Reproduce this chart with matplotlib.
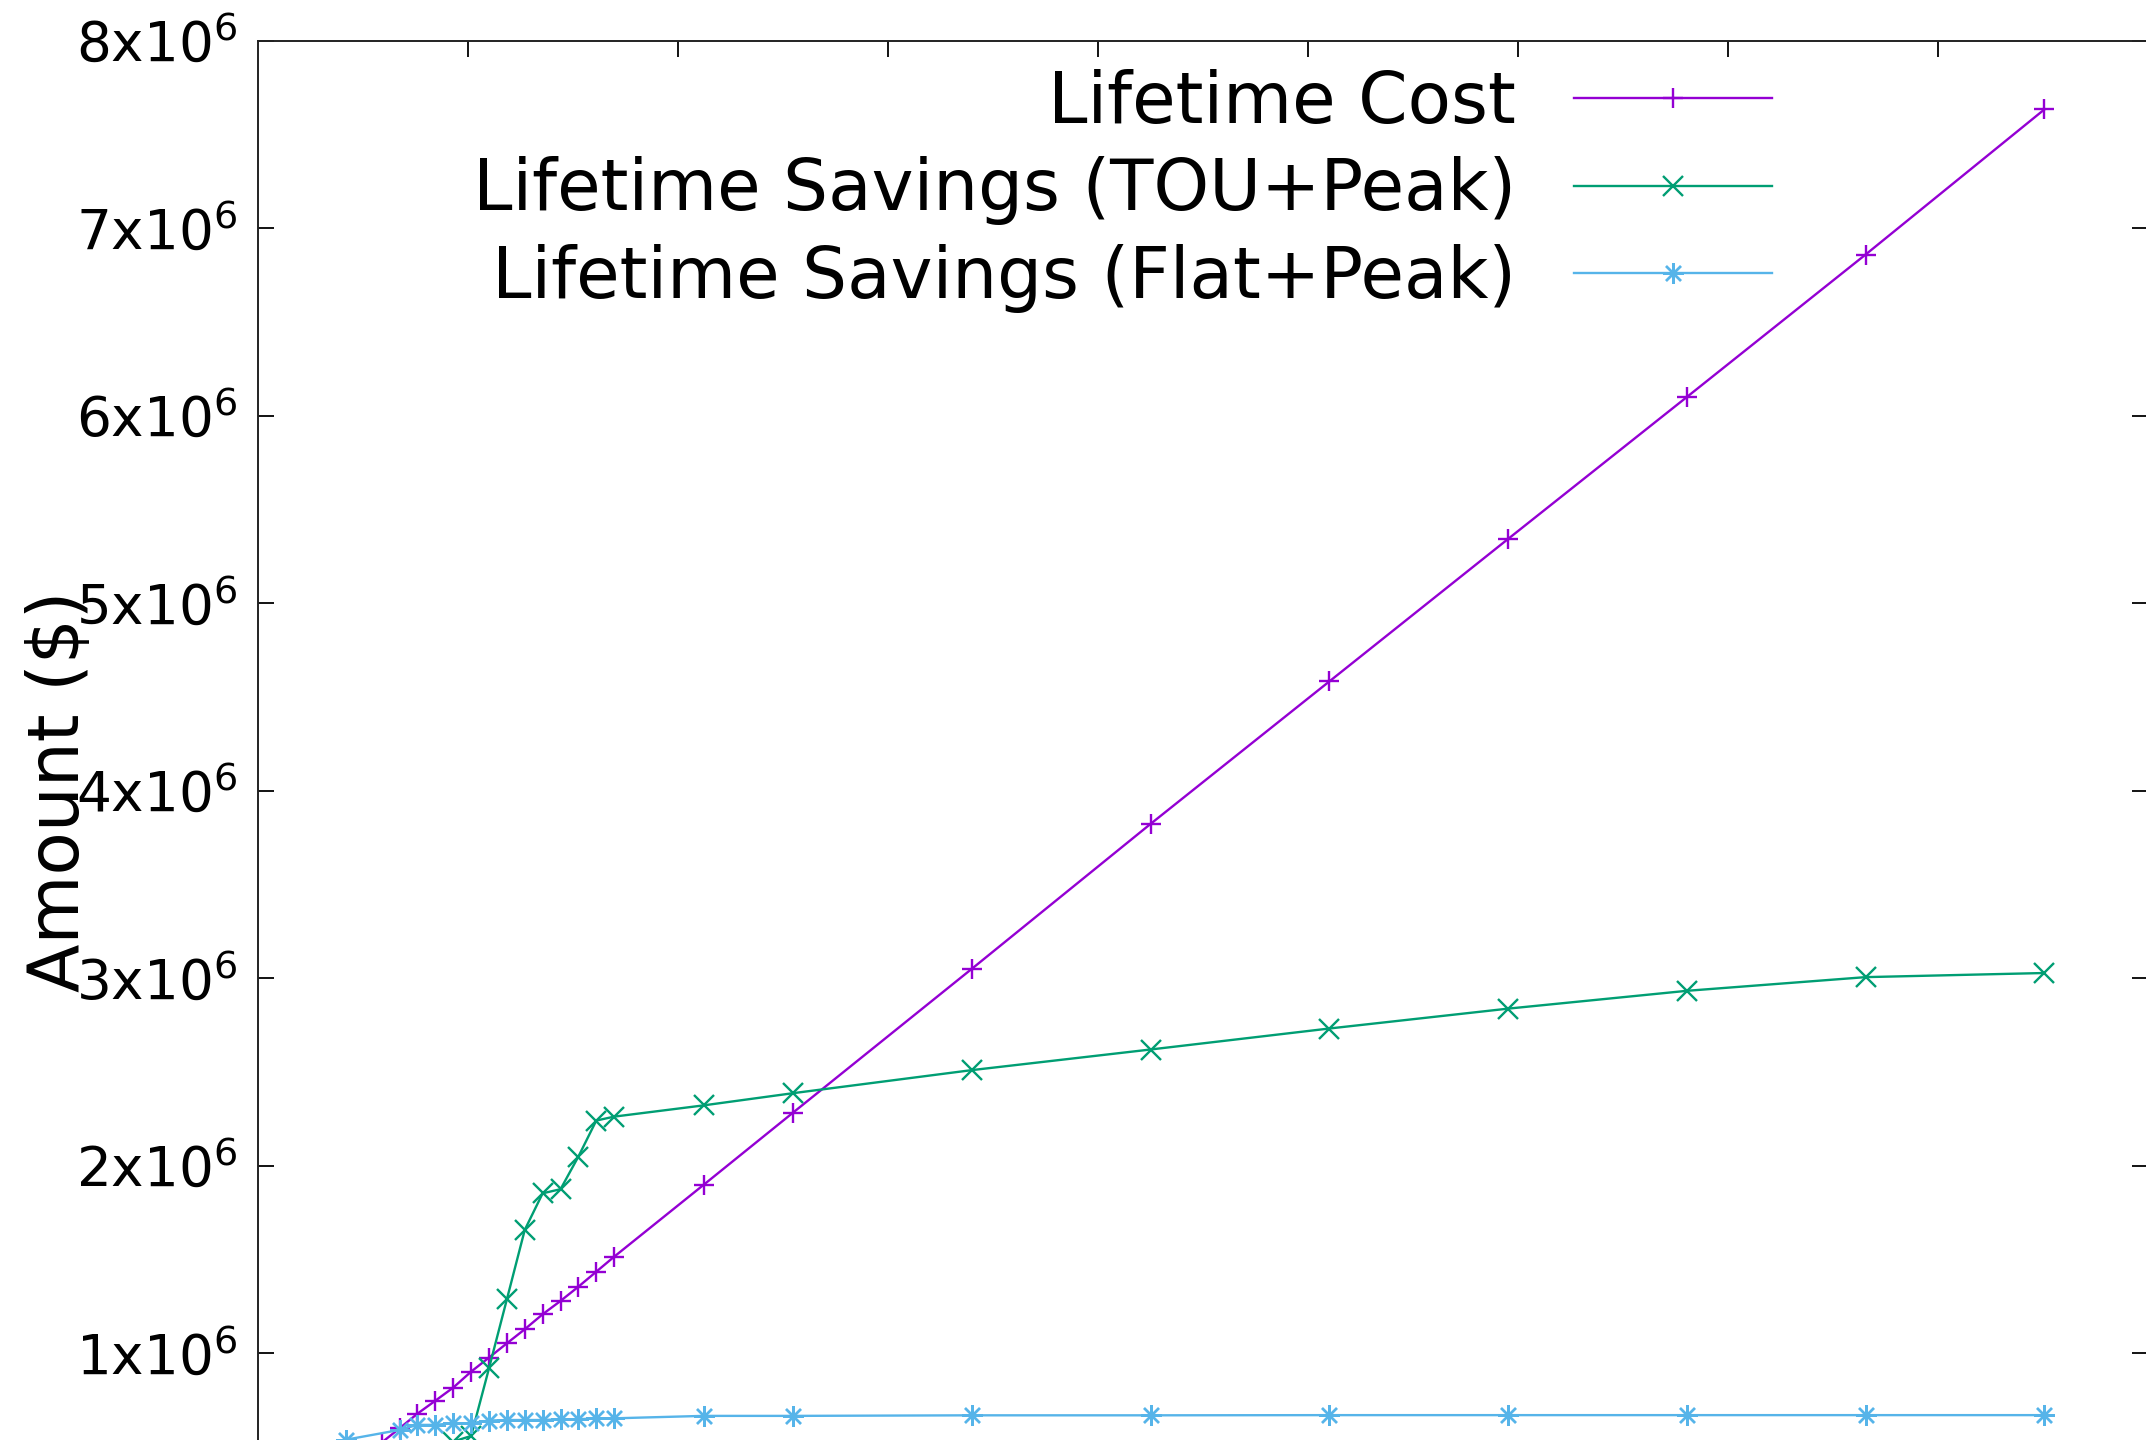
import numpy as np
import matplotlib
matplotlib.use('Agg')
import matplotlib.pyplot as plt
from matplotlib.ticker import FuncFormatter

plt.rcParams['font.family'] = ['DejaVu Sans']
plt.rcParams['mathtext.default'] = 'regular'

# Lifetime cost of the system for each size step
size_cost = [5, 6, 7, 8, 9, 10, 11, 12, 13, 14, 15, 16, 17, 18, 19, 20,
             25, 30, 40, 50, 60, 70, 80, 90, 100]
lifetime_cost = [372000, 449000, 525000, 601000, 679000, 748000, 818000, 903000,
                 978000, 1054000, 1129000, 1209000, 1280000, 1356000, 1436000, 1516000,
                 1899000, 2284000, 3051000, 3824000, 4584000, 5344000, 6101000, 6861000,
                 7635000]

# Lifetime savings, time-of-use tariff plus peak shaving
size_tou = [10, 11, 12, 13, 14, 15, 16, 17, 18, 19, 20,
            25, 30, 40, 50, 60, 70, 80, 90, 100]
savings_tou = [450000, 530000, 560000, 921000, 1289000, 1659000, 1854000, 1876000,
               2050000, 2242000, 2263000, 2323000, 2388000, 2511000, 2621000, 2733000,
               2839000, 2934000, 3007000, 3029000]

# Lifetime savings, flat tariff plus peak shaving
size_flat = [5, 8, 9, 10, 11, 12, 13, 14, 15, 16, 17, 18, 19, 20,
             25, 30, 40, 50, 60, 70, 80, 90, 100]
savings_flat = [540000, 592000, 619000, 619000, 628000, 628000, 642000, 645000,
                645000, 645000, 649000, 649000, 654000, 654000, 667000, 667000,
                670000, 670000, 671000, 671000, 671000, 671000, 671000]

purple = '#9400D3'
green = '#009E73'
blue = '#56B4E9'

fig = plt.figure(figsize=(21.46, 14.40), dpi=100)
# plot area runs past the bottom and right edges of the canvas
ax = fig.add_axes([0.1204, -0.0701, 0.8806, 1.04167])

ax.plot(size_cost, lifetime_cost, color=purple, lw=1.7, marker='+', ms=15, mew=1.7,
        label='Lifetime Cost')
ax.plot(size_tou, savings_tou, color=green, lw=1.7, marker='x', ms=14, mew=1.7,
        label='Lifetime Savings (TOU+Peak)')
ax.plot(size_flat, savings_flat, color=blue, lw=1.7, marker=(8, 2, 0), ms=15, mew=1.7,
        label='Lifetime Savings (Flat+Peak)')

xmin, xmax = 0.1, 105.8
ax.set_xlim(xmin, xmax)
ax.set_ylim(0, 8e6)
ax.set_xticks(np.linspace(xmin, xmax, 10)[1:-1])
ax.set_yticks(np.arange(1e6, 8.5e6, 1e6))


def sci_fmt(v, pos):
    return '%dx10$^{6}$' % round(v / 1e6)


ax.yaxis.set_major_formatter(FuncFormatter(sci_fmt))
ax.tick_params(direction='in', length=11.5, width=1.3, top=True, right=True,
               labelbottom=False, labelsize=39.5, pad=15)
for sp in ax.spines.values():
    sp.set_linewidth(1.4)
    sp.set_color('#222222')

ax.set_ylabel('Amount ($)', fontsize=51)
ax.yaxis.set_label_coords(-0.0872, 0.5)

ax.legend(loc='upper right', bbox_to_anchor=(1772 / 2146, 1 - 69 / 1440),
          bbox_transform=fig.transFigure, frameon=False, markerfirst=False,
          fontsize=51, handlelength=2.79, handletextpad=0.82, labelspacing=0.26,
          borderpad=0, borderaxespad=0)

fig.savefig('out.png', dpi=100)
